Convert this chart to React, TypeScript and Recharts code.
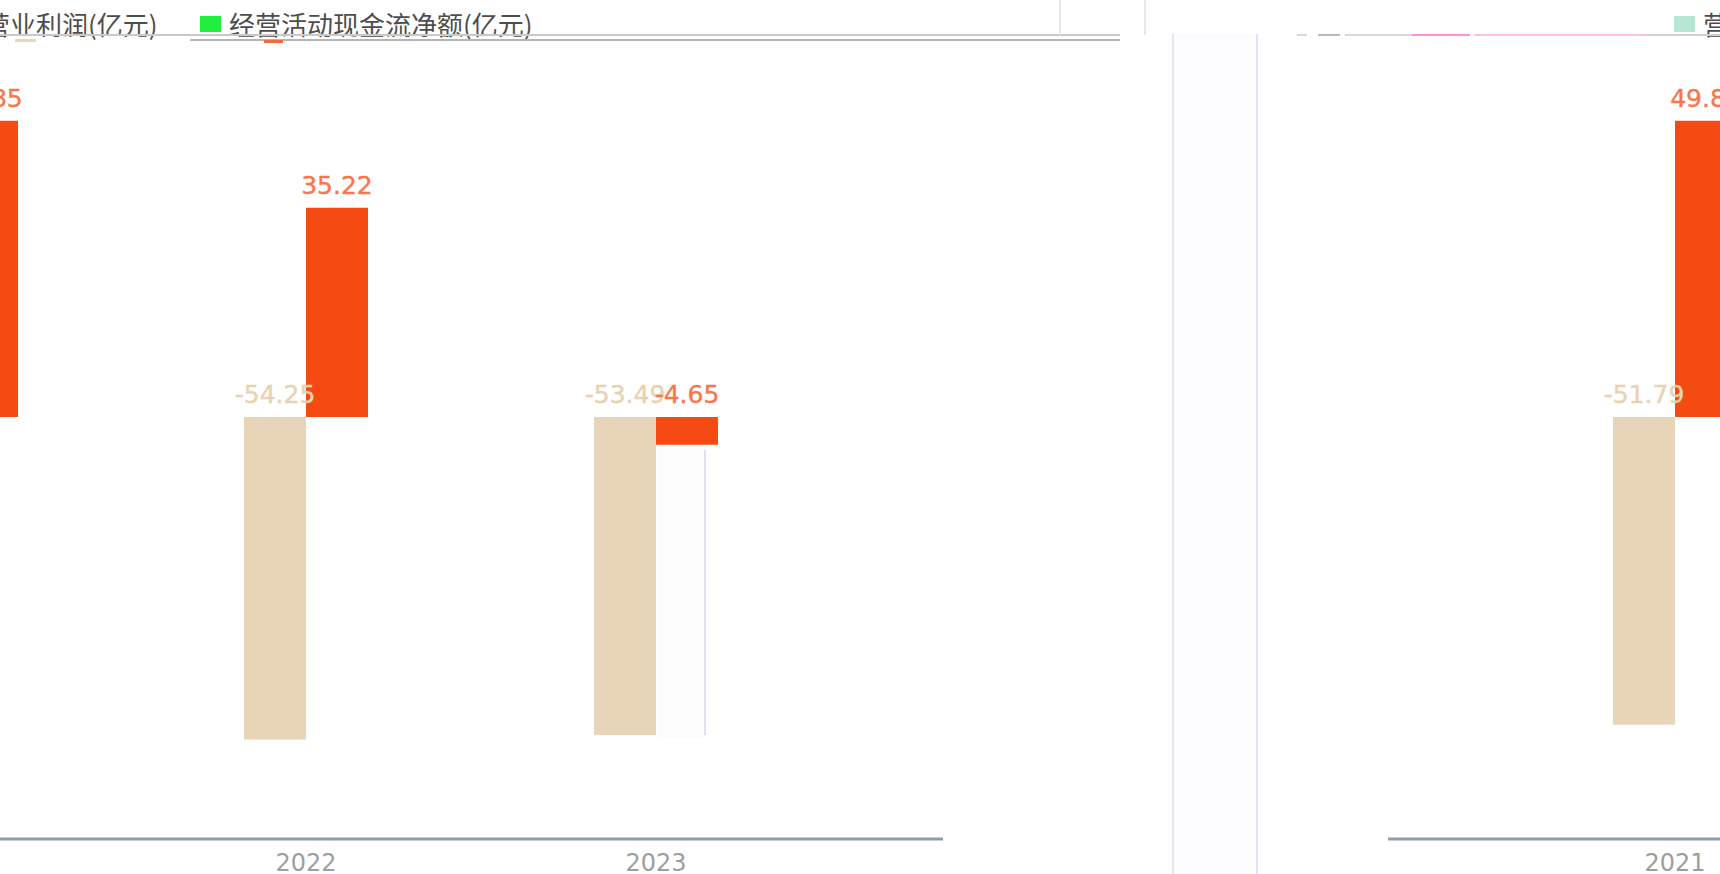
import React from 'react';
import { BarChart, Bar, XAxis, YAxis, Legend, LabelList } from 'recharts';

const categories = ['2021', '2022', '2023'];
const operatingProfit = [-51.79, -54.25, -53.49];
const operatingCashFlow = [49.85, 35.22, -4.65];
const seriesNames = ['营业利润(亿元)', '经营活动现金流净额(亿元)'];
const legendColors = ['#b4e6d3', '#1ff03d'];
const barColors = ['#e8d4b6', '#f54b12'];
const labelColors = ['#e9d2b2', '#f7774d'];

const data = categories.map((year, i) => ({
  year,
  profit: operatingProfit[i],
  cash: operatingCashFlow[i],
}));

const CHART_W = 1274;
const CHART_H = 879;
const FONT = '"DejaVu Sans", Verdana, sans-serif';
const CJK = '"Noto Sans CJK SC", "Noto Sans", sans-serif';

const makeLabel = (color: string) => (props: any) => {
  const x = Number(props.x);
  const y = Number(props.y);
  const w = Number(props.width);
  const h = Number(props.height);
  const top = Math.min(y, y + h);
  return (
    <text
      x={x + w / 2}
      y={top - 14}
      fill={color}
      fontSize={25}
      fontFamily={FONT}
      textAnchor="middle"
      stroke={color}
      strokeWidth={0.4}
    >
      {Number(props.value).toFixed(2)}
    </text>
  );
};

const renderLegend = () => (
  <div style={{ display: 'flex', alignItems: 'center', height: 38, whiteSpace: 'nowrap' }}>
    {seriesNames.map((name, i) => (
      <div key={name} style={{ display: 'flex', alignItems: 'center', width: i === 0 ? 245 : 'auto' }}>
        <span style={{ display: 'inline-block', width: 21, height: 16, background: legendColors[i], marginRight: 8 }} />
        <span style={{ fontFamily: CJK, fontSize: 26, color: '#4d4d4d', lineHeight: '38px' }}>{name}</span>
      </div>
    ))}
  </div>
);

function Chart({ left, top }: { left: number; top: number }) {
  return (
    <div style={{ position: 'absolute', left, top, width: CHART_W, height: CHART_H }}>
      <BarChart
        width={CHART_W}
        height={CHART_H}
        data={data}
        margin={{ top: 0, right: 0, bottom: 0, left: 0 }}
        barGap={0}
        barSize={62}
      >
        <XAxis
          dataKey="year"
          padding={{ left: 112, right: 112 }}
          axisLine={{ stroke: '#8d9eb2', strokeWidth: 3 }}
          tickLine={false}
          tick={{ fill: '#9e9e9e', fontSize: 24, fontFamily: FONT }}
          tickMargin={9}
          height={35}
          interval={0}
        />
        <YAxis hide domain={[-71, 71]} />
        <Legend
          content={renderLegend}
          verticalAlign="middle"
          align="center"
          wrapperStyle={{ left: 286, top: 10, width: 'auto', height: 38 }}
        />
        <Bar dataKey="profit" name={seriesNames[0]} fill={barColors[0]} isAnimationActive={false}>
          <LabelList dataKey="profit" content={makeLabel(labelColors[0])} />
        </Bar>
        <Bar dataKey="cash" name={seriesNames[1]} fill={barColors[1]} isAnimationActive={false}>
          <LabelList dataKey="cash" content={makeLabel(labelColors[1])} />
        </Bar>
      </BarChart>
    </div>
  );
}

const abs = (l: number, t: number, w: number, h: number, bg: string): React.CSSProperties => ({
  position: 'absolute',
  left: l,
  top: t,
  width: w,
  height: h,
  background: bg,
});

export default function App() {
  return (
    <div
      style={{
        position: 'fixed',
        left: 0,
        top: 0,
        width: 1720,
        height: 874,
        overflow: 'hidden',
        background: '#ffffff',
        fontFamily: FONT,
      }}
    >
      <Chart left={-331} top={-5} />
      <Chart left={1388} top={-5} />

      {/* glitch artifacts of the screenshot */}
      <div style={abs(0, 34, 1120, 2, '#c9c9c9')} />
      <div style={abs(190, 39, 930, 2, '#b5b5b5')} />
      <div style={abs(15, 39, 21, 3, '#ead7bb')} />
      <div style={abs(264, 40, 19, 3, '#f26a3a')} />
      <div style={abs(1059, 0, 2, 35, '#e6e6ee')} />
      <div style={abs(1144, 0, 2, 35, '#e6e6ee')} />
      <div style={abs(1172, 34, 85, 840, '#fcfcfe')} />
      <div style={abs(1172, 34, 2, 840, '#e3e3f5')} />
      <div style={abs(1256, 34, 2, 840, '#e3e3f5')} />
      <div style={abs(1297, 34, 10, 2, '#d8d0f5')} />
      <div style={abs(1318, 34, 22, 2, '#b8b8c8')} />
      <div style={abs(1345, 34, 67, 2, '#d6d6dc')} />
      <div style={abs(1412, 34, 58, 2, '#ff8ee0')} />
      <div style={abs(1474, 34, 172, 2, '#ffbdf2')} />
      <div style={abs(1646, 34, 74, 2, '#d0d0d0')} />
      <div style={abs(657, 448, 48, 290, '#fcfcfc')} />
      <div style={abs(704, 450, 2, 285, '#e0e0f2')} />
    </div>
  );
}
